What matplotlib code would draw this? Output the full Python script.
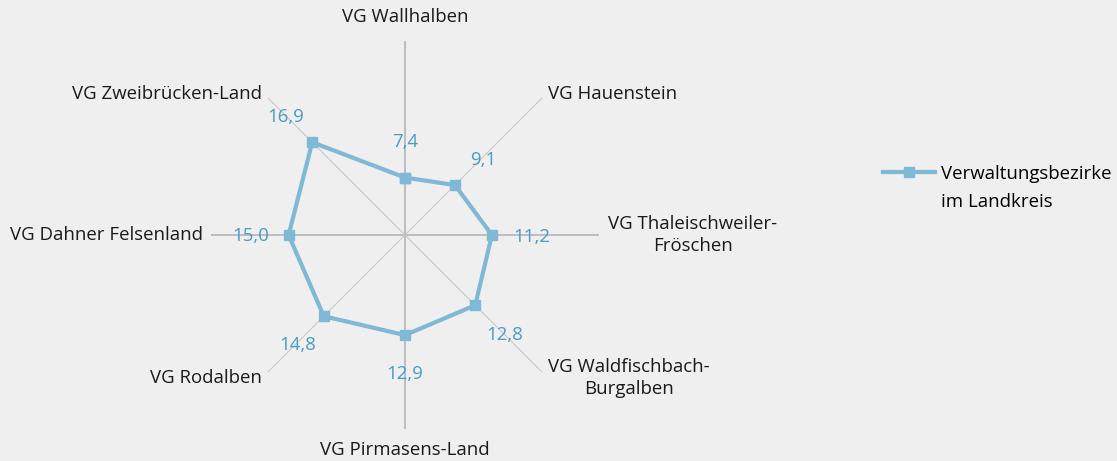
import numpy as np
import matplotlib
matplotlib.use("Agg")
import matplotlib.pyplot as plt

# Daten
kategorien = ["VG Wallhalben", "VG Hauenstein", "VG Thaleischweiler-\nFröschen",
              "VG Waldfischbach-\nBurgalben", "VG Pirmasens-Land", "VG Rodalben",
              "VG Dahner Felsenland", "VG Zweibrücken-Land"]
werte = [7.4, 9.1, 11.2, 12.8, 12.9, 14.8, 15.0, 16.9]
serie = "Verwaltungsbezirke\nim Landkreis"

plt.rcParams['font.family'] = ['Open Sans', 'DejaVu Sans']

bg = '#eeefee'
linie = '#7fb9d6'
wertfarbe = '#4a9cc6'
fs = 13.4

fig = plt.figure(figsize=(11.17, 4.61), dpi=100, facecolor=bg)
ax = fig.add_axes([211 / 1117, 32 / 461, 388 / 1117, 388 / 461], projection='polar')
ax.set_facecolor('none')
ax.set_theta_offset(np.pi / 2)
ax.set_theta_direction(-1)

n = len(kategorien)
winkel = np.arange(n) * 2 * np.pi / n

ax.set_ylim(0, 25)
ax.set_yticks([])
ax.set_xticks(winkel)
ax.set_xticklabels([''] * n)
ax.spines['polar'].set_visible(False)
ax.tick_params(axis='x', length=0, pad=0)
for i, g in enumerate(ax.xaxis.get_gridlines()):
    if i % 2 == 0:
        g.set_color('#bdbdbd')
        g.set_linewidth(1.4)
    else:
        g.set_color('#c9c9c9')
        g.set_linewidth(0.8)
    g.set_linestyle('-')

# Linie schließen
w = np.append(winkel, winkel[0])
v = np.append(werte, werte[0])
ax.plot(w, v, color=linie, lw=3, marker='s', markersize=6.5, label=serie,
        solid_joinstyle='miter', clip_on=False, zorder=3)

# Beschriftungen der Achsen (Versatz in Pixel)
achs_off = [(0, 24), (6, 4), (9, 0), (6, -6), (0, -21), (-6, -6), (-8, 0), (-6, 4)]
achs_ha = ['center', 'left', 'left', 'left', 'center', 'right', 'right', 'right']
for t, name, (dx, dy), ha in zip(winkel, kategorien, achs_off, achs_ha):
    ax.annotate(name, xy=(t, 25), xytext=(dx * 0.72, dy * 0.72),
                textcoords='offset points', ha=ha, va='center',
                multialignment='center', fontsize=fs, color='#1a1a1a',
                linespacing=1.25, annotation_clip=False)

# Datenbeschriftungen
wert_off = [(0, 36), (28, 25), (40, -2), (29, -30), (0, -39), (-26, -29), (-38, -1), (-27, 25)]
for t, val, (dx, dy) in zip(winkel, werte, wert_off):
    ax.annotate(f"{val:.1f}".replace('.', ','), xy=(t, val),
                xytext=(dx * 0.72, dy * 0.72), textcoords='offset points',
                ha='center', va='center', fontsize=fs, color=wertfarbe)

leg = fig.legend(loc='upper left', bbox_to_anchor=(883 / 1117, 1 - 165 / 461),
                 frameon=False, fontsize=fs, handlelength=2.8, handletextpad=0.3,
                 borderpad=0, borderaxespad=0)
for t in leg.get_texts():
    t.set_linespacing(1.7)
# Symbol an der ersten Zeile ausrichten
for spalte in leg._legend_handle_box.get_children():
    for eintrag in spalte.get_children():
        eintrag.align = 'top'

plt.savefig('out.png', dpi=100, facecolor=bg)
